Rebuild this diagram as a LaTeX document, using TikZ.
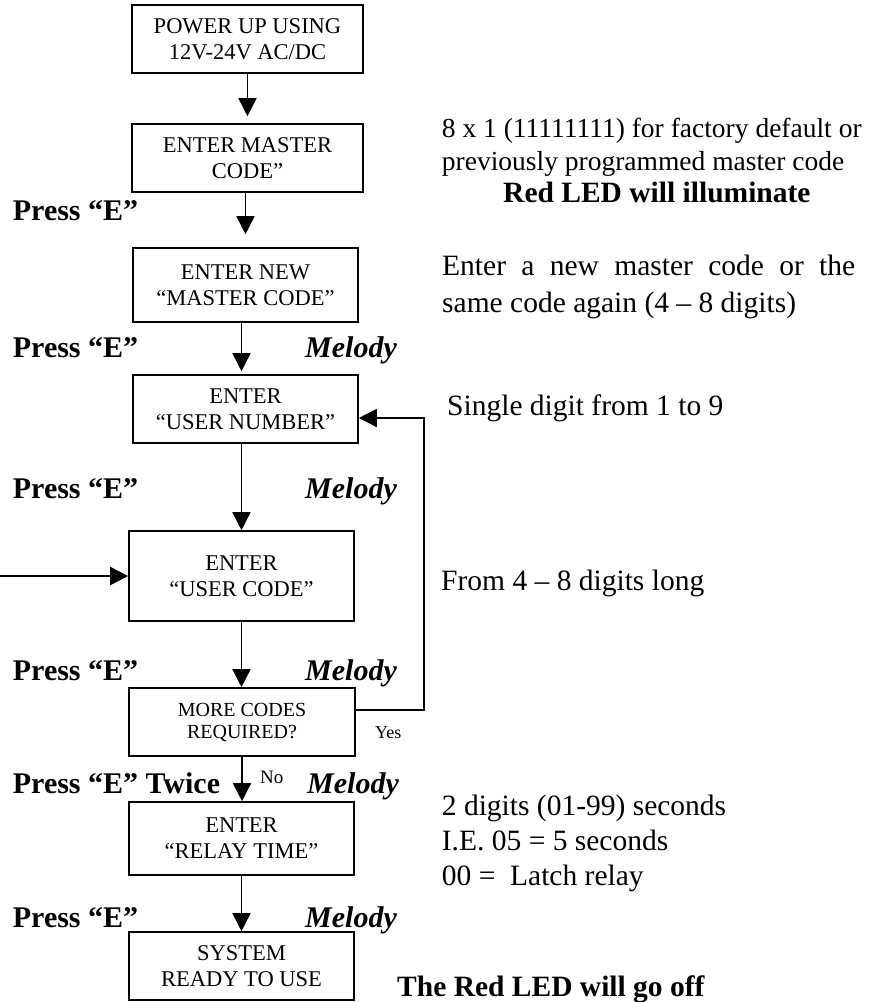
\documentclass[tikz,border=0pt]{standalone}
\usepackage{fontspec}
\setmainfont{Liberation Serif}
\usetikzlibrary{arrows.meta}
\begin{document}
\begin{tikzpicture}[x=1pt,y=-1pt,
  box/.style={draw,line width=1.6pt,inner sep=0pt,align=center,
    font=\fontsize{22.5}{26}\selectfont},
  arr/.style={line width=1.6pt,-{Triangle[width=18pt,length=18pt]}},
  lab/.style={inner sep=0pt,anchor=base west,font=\fontsize{29.5}{35}\selectfont},
  labs/.style={inner sep=0pt,anchor=base west,font=\fontsize{27.5}{33}\selectfont},
  press/.style={inner sep=0pt,anchor=base west,font=\fontsize{30}{35}\selectfont\bfseries},
  mel/.style={inner sep=0pt,anchor=base west,font=\fontsize{30}{35}\selectfont\bfseries\itshape},
  small/.style={inner sep=0pt,anchor=base west}]
\useasboundingbox (0,0) rectangle (882,1002);
% boxes
\node[box,minimum width=231pt,minimum height=68pt] (b1) at (247.5,39) {POWER UP USING\\12V-24V AC/DC};
\node[box,minimum width=231pt,minimum height=68pt] (b2) at (247.5,158) {ENTER MASTER\\CODE”};
\node[box,minimum width=225pt,minimum height=74pt] (b3) at (245.5,285) {ENTER NEW\\“MASTER CODE”};
\node[box,minimum width=225pt,minimum height=68pt] (b4) at (245.5,409) {ENTER\\“USER NUMBER”};
\node[box,minimum width=225pt,minimum height=90pt] (b5) at (241.5,576) {ENTER\\“USER CODE”};
\node[box,minimum width=226pt,minimum height=68pt,font=\fontsize{20}{22}\selectfont] (b6) at (242,722) {MORE CODES\\REQUIRED?};
\node[box,minimum width=225pt,minimum height=73pt] (b7) at (241.5,838.5) {ENTER\\“RELAY TIME”};
\node[box,minimum width=225pt,minimum height=68pt] (b8) at (241.5,966) {SYSTEM\\READY TO USE};
% connectors
\draw[arr,shorten >=7pt] (b1.south) -- (b2.north);
\draw[arr,shorten >=13pt] (b2.south -| b3.north) -- (b3.north);
\draw[arr,shorten >=3pt] ([xshift=-4pt]b3.south) -- ([xshift=-4pt]b4.north);
\draw[arr] (b4.south -| b5.north) -- (b5.north);
\draw[arr] (b5.south) -- (b5.south |- b6.north);
\draw[arr] (b6.south) -- (b6.south |- b7.north);
\draw[arr] (b7.south) -- (b8.north);
\coordinate (lin) at (0,576);
\draw[arr] (lin) -- (b5.west);
\draw[arr] ([yshift=12pt]b6.east) -- ++(68.3,0) |- ([yshift=-9pt]b4.east);
% connector labels
\node[small,font=\fontsize{18}{20}\selectfont] (yes) at (375,738) {Yes};
\node[small,font=\fontsize{19}{20}\selectfont] (no) at (260,783) {No};
% left labels
\node[press] (p1) at (12.7,220) {Press “E”};
\node[press] (p2) at (12.7,357) {Press “E”};
\node[press] (p3) at (12.7,498) {Press “E”};
\node[press] (p4) at (12.7,680) {Press “E”};
\node[press] (p5) at (12.7,793) {Press “E” Twice};
\node[press] (p6) at (12.7,927) {Press “E”};
\node[mel] (m2) at (305,357) {Melody};
\node[mel] (m3) at (305,498) {Melody};
\node[mel] (m4) at (305,680) {Melody};
\node[mel] (m5) at (307,793) {Melody};
\node[mel] (m6) at (305,927) {Melody};
% right notes
\node[labs] (r1) at (441.7,137) {8 x 1 (11111111) for factory default or};
\node[labs] (r2) at (441.7,170) {previously programmed master code};
\node[lab,font=\fontsize{29.5}{35}\selectfont\bfseries] (r3) at (503,202) {Red LED will illuminate};
\node[lab] (r4) at (442,275) {\makebox[413pt][s]{Enter a new master code or the}};
\node[lab] (r5) at (442,312) {same code again (4 – 8 digits)};
\node[lab] (r6) at (447,415) {Single digit from 1 to 9};
\node[lab] (r7) at (441,590) {From 4 – 8 digits long};
\node[lab] (r8) at (441.7,815) {2 digits (01-99) seconds};
\node[lab] (r9) at (441.7,850) {I.E. 05 = 5 seconds};
\node[lab] (r10) at (441.7,885) {00 =\ \ Latch relay};
\node[lab,font=\fontsize{29.5}{35}\selectfont\bfseries] (r11) at (397,996) {The Red LED will go off};
\end{tikzpicture}
\end{document}
